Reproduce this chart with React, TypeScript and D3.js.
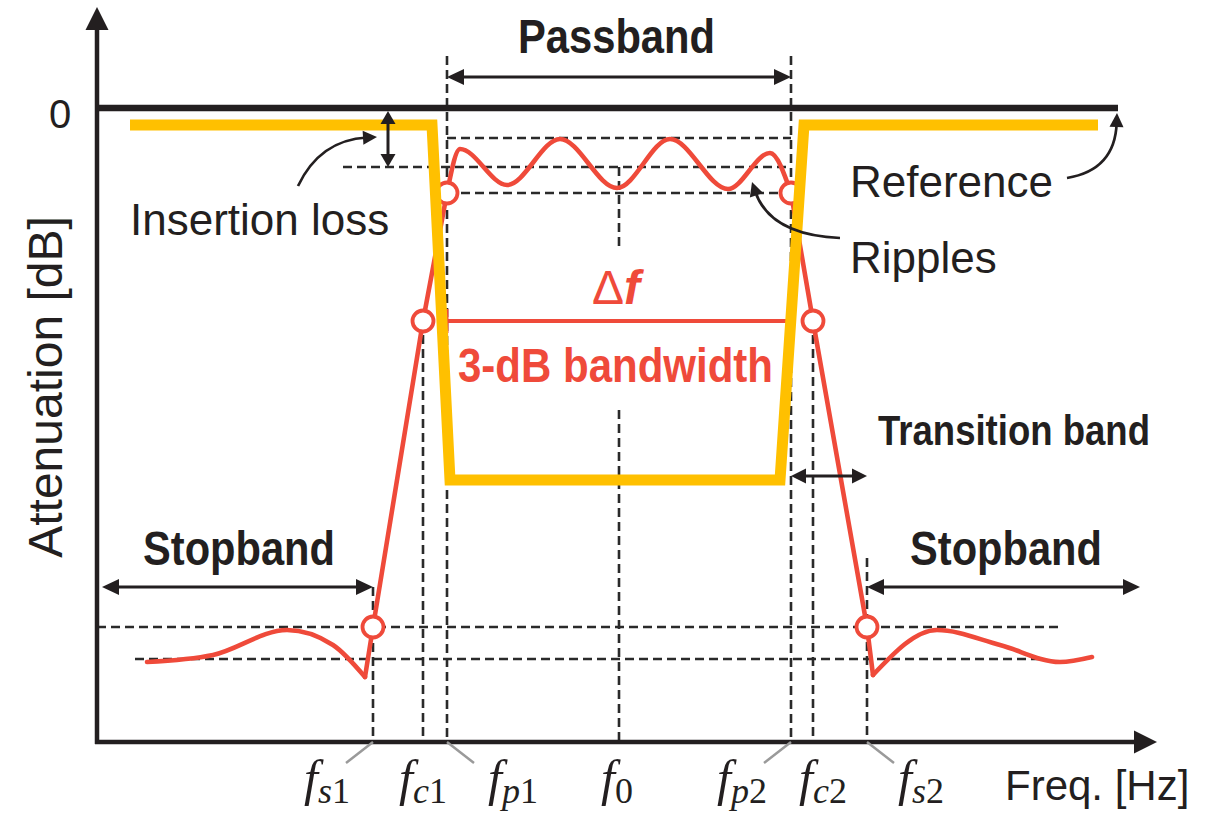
import React from 'react';
import * as d3 from 'd3';

// ---- key frequencies (arbitrary frequency units along the axis) ----
const FS1 = 27.6, FC1 = 32.6, FP1 = 35.0, F0 = 52.2, FP2 = 69.4, FC2 = 71.6, FS2 = 77.0;
const tickFreqs = [FS1, FC1, FP1, F0, FP2, FC2, FS2];
const tickSubLetter = ['s', 'c', 'p', '', 'p', 'c', 's'];
const tickSubDigit = ['1', '1', '1', '0', '2', '2', '2'];

// ---- attenuation levels (dB below reference, relative units) ----
const REF = 0, RIP_TOP = 3.0, ILOSS = 5.9, RIP_BOT = 8.5, DB3 = 21.3, STOP_TOP = 51.9, STOP_BOT = 55.1;

// ---- red filter response ----
const leftStopX = [5.0, 11.6, 19.0, 23.6, 26.8];
const leftStopY = [55.4, 54.7, 52.2, 53.7, 56.9];
const leftSkirtX = [26.8, FS1, FC1, FP1];
const leftSkirtY = [56.9, STOP_TOP, DB3, RIP_BOT];
const rippleX = [FP1, 36.3, 41.0, 46.3, 52.0, 57.3, 63.1, 67.3, FP2];
const rippleY = [RIP_BOT, 4.1, 7.7, 3.1, 8.0, 3.1, 8.1, 4.5, RIP_BOT];
const rightSkirtX = [FP2, FC2, FS2, 77.6];
const rightSkirtY = [RIP_BOT, DB3, STOP_TOP, 56.7];
const rightStopX = [77.6, 84.0, 90.3, 96.3, 99.5];
const rightStopY = [56.7, 52.2, 53.7, 55.4, 54.9];

// ---- marked points (circles) ----
const markX = [FS1, FC1, FP1, FP2, FC2, FS2];
const markY = [STOP_TOP, DB3, RIP_BOT, RIP_BOT, DB3, STOP_TOP];

// ---- yellow ideal mask ----
const maskX = [3.3, 33.5, 35.3, 68.3, 70.7, 100.1];
const maskY = [1.7, 1.7, 37.2, 37.2, 1.7, 1.7];

const RED = '#EF4A3A';
const YELLOW = '#FFC000';
const INK = '#231F20';
const SANS = '"Liberation Sans", Arial, sans-serif';
const SERIF = '"Liberation Serif", "Times New Roman", serif';

type P = [number, number];
const zip = (xs: number[], ys: number[]): P[] => xs.map((v, i) => [v, ys[i]]);

export default function App() {
  const W = 1222, H = 815;
  const x = d3.scaleLinear().domain([0, 106]).range([97, 1157]);
  const y = d3.scaleLinear().domain([0, 63.4]).range([108, 742]);
  const mono = d3.line<P>().x(d => x(d[0])).y(d => y(d[1])).curve(d3.curveMonotoneX);
  const lin = d3.line<P>().x(d => x(d[0])).y(d => y(d[1]));

  const head = (tx: number, ty: number, dx: number, dy: number, len: number, hw: number, fill = INK) => {
    const n = Math.hypot(dx, dy);
    const ux = dx / n, uy = dy / n;
    const bx = tx - ux * len, by = ty - uy * len;
    const pts = [[tx, ty], [bx - uy * hw, by + ux * hw], [bx + uy * hw, by - ux * hw]];
    return <polygon points={pts.map(p => p.join(',')).join(' ')} fill={fill} />;
  };

  const dbl = (x1: number, y1: number, x2: number, y2: number, len: number, hw: number, sw: number, key: string) => {
    const dx = x2 - x1, dy = y2 - y1, n = Math.hypot(dx, dy);
    const ux = dx / n, uy = dy / n;
    return (
      <g key={key}>
        <line x1={x1 + ux * (len - 2)} y1={y1 + uy * (len - 2)} x2={x2 - ux * (len - 2)} y2={y2 - uy * (len - 2)} stroke={INK} strokeWidth={sw} />
        {head(x1, y1, -dx, -dy, len, hw)}
        {head(x2, y2, dx, dy, len, hw)}
      </g>
    );
  };

  const curved = (s: P, c: P, e: P, key: string) => {
    const [sx, sy] = [x(s[0]), y(s[1])];
    const [cx, cy] = [x(c[0]), y(c[1])];
    const [ex, ey] = [x(e[0]), y(e[1])];
    const dx = ex - cx, dy = ey - cy, n = Math.hypot(dx, dy);
    const bx = ex - (dx / n) * 10, by = ey - (dy / n) * 10;
    return (
      <g key={key}>
        <path d={`M${sx},${sy} Q${cx},${cy} ${bx},${by}`} fill="none" stroke={INK} strokeWidth={2.7} />
        {head(ex, ey, dx, dy, 14, 7)}
      </g>
    );
  };

  const DASH = '9 5';
  const vDashes: [number, number, number][] = [
    [FP1, -5.2, 63.4], [FP2, -5.2, 63.4], [FC1, DB3, 63.4], [FC2, DB3, 63.4],
    [FS1, 47.9, 63.4], [FS2, 45.0, 63.4], [F0, ILOSS, 14.2], [F0, 30.2, 63.4],
  ];
  const hDashes: [number, number, number][] = [
    [RIP_TOP, FP1, FP2], [ILOSS, 24.6, FP2], [RIP_BOT, FP1, FP2],
    [STOP_TOP, 0, 96.5], [STOP_BOT, 3.8, 94.3],
  ];

  const labelDx = [-46, 0, 66, -2, -49, 10, 54];
  const leaderDir = [-1, 0, 1, 0, -1, 0, 1];

  const axisY = y(63.4);
  const axisX0 = x(0);

  return (
    <div style={{ position: 'absolute', left: 0, top: 0 }}>
      <svg width={W} height={H} viewBox={`0 0 ${W} ${H}`} style={{ display: 'block', background: '#fff' }}>
        {/* dashed guides */}
        <g stroke="#2a2a2a" strokeWidth={2.6} strokeDasharray={DASH} fill="none">
          {vDashes.map(([f, a, b], i) => (
            <line key={'v' + i} x1={x(f)} x2={x(f)} y1={y(a)} y2={y(b)} />
          ))}
          {hDashes.map(([lv, a, b], i) => (
            <line key={'h' + i} x1={x(a)} x2={x(b)} y1={y(lv)} y2={y(lv)} />
          ))}
        </g>

        {/* axes */}
        <line x1={axisX0} y1={axisY + 2} x2={axisX0} y2={y(-10.1) + 20} stroke={INK} strokeWidth={4.5} />
        {head(axisX0, y(-10.1), 0, -1, 23, 11.5)}
        <line x1={axisX0 - 2} y1={axisY} x2={x(106) - 20} y2={axisY} stroke={INK} strokeWidth={4.5} />
        {head(x(106), axisY, 1, 0, 23, 11.5)}

        {/* reference 0 line */}
        <line x1={axisX0} x2={x(102.1)} y1={y(REF)} y2={y(REF)} stroke={INK} strokeWidth={6.5} />

        {/* leader lines for tick labels */}
        {tickFreqs.map((f, i) =>
          leaderDir[i] !== 0 ? (
            <line key={'ld' + i} x1={x(f)} y1={axisY} x2={x(f) + leaderDir[i] * 27} y2={axisY + 21} stroke="#9A9A9A" strokeWidth={2.5} />
          ) : null
        )}

        {/* red response */}
        <g fill="none" stroke={RED} strokeWidth={4.6} strokeLinecap="round" strokeLinejoin="round">
          <path d={mono(zip(leftStopX, leftStopY)) || ''} />
          <path d={lin(zip(leftSkirtX, leftSkirtY)) || ''} />
          <path d={mono(zip(rippleX, rippleY)) || ''} />
          <path d={lin(zip(rightSkirtX, rightSkirtY)) || ''} />
          <path d={mono(zip(rightStopX, rightStopY)) || ''} />
        </g>

        {/* 3-dB bandwidth line */}
        <line x1={x(FP1)} x2={x(FP2)} y1={y(DB3)} y2={y(DB3)} stroke={RED} strokeWidth={3.8} />
        <line x1={x(FP1)} x2={x(FP1)} y1={y(DB3) - 12} y2={y(DB3) + 12} stroke={RED} strokeWidth={3} />
        <line x1={x(FP2)} x2={x(FP2)} y1={y(DB3) - 12} y2={y(DB3) + 12} stroke={RED} strokeWidth={3} />

        {/* circles */}
        {markX.map((f, i) => (
          <circle key={'c' + i} cx={x(f)} cy={y(markY[i])} r={10.5} fill="#fff" stroke={RED} strokeWidth={3.8} />
        ))}

        {/* yellow mask */}
        <path d={lin(zip(maskX, maskY)) || ''} fill="none" stroke={YELLOW} strokeWidth={11} strokeLinejoin="miter" />

        {/* dimension arrows */}
        {dbl(x(FP1), y(-3.1), x(FP2), y(-3.1), 17, 8, 3, 'pass')}
        {dbl(x(0.5), y(47.9), x(FS1), y(47.9), 17, 8, 3, 'stopL')}
        {dbl(x(FS2), y(47.9), x(104.3), y(47.9), 17, 8, 3, 'stopR')}
        {dbl(x(FP2), y(36.8), x(FS2), y(36.8), 15, 7.5, 3, 'trans')}
        {dbl(x(29.1), y(REF) + 3, x(29.1), y(ILOSS), 13, 7.5, 3, 'il')}

        {/* curved annotation arrows */}
        {curved([20.1, 7.8], [22.3, 3.2], [28.0, 2.9], 'cIL')}
        {curved([97.0, 7.0], [101.8, 6.2], [102.0, 0.5], 'cRef')}
        {curved([74.3, 13.0], [67.3, 12.7], [65.5, 7.4], 'cRip')}

        {/* texts */}
        <g fontFamily={SANS} fill={INK}>
          <text x={x(-3.7)} y={y(2.0)} fontSize={40} textAnchor="middle">0</text>
          <text transform={`translate(62,387) rotate(-90)`} fontSize={48} textAnchor="middle">Attenuation [dB]</text>
          <text x={x(3.3)} y={y(12.7)} fontSize={44}>Insertion loss</text>
          <text x={x(75.3)} y={y(8.9)} fontSize={44}>Reference</text>
          <text x={x(75.3)} y={y(16.5)} fontSize={44}>Ripples</text>
          <text x={x(90.8)} y={y(69.2)} fontSize={42}>Freq. [Hz]</text>
          <g fontWeight="bold">
            <text x={x(42.1)} y={y(-5.5)} fontSize={48} textLength={197} lengthAdjust="spacingAndGlyphs">Passband</text>
            <text x={x(4.6)} y={y(45.7)} fontSize={48} textLength={192} lengthAdjust="spacingAndGlyphs">Stopband</text>
            <text x={x(81.3)} y={y(45.7)} fontSize={48} textLength={192} lengthAdjust="spacingAndGlyphs">Stopband</text>
            <text x={x(78.1)} y={y(33.7)} fontSize={42} textLength={272} lengthAdjust="spacingAndGlyphs">Transition band</text>
          </g>
        </g>
        <g fontFamily={SANS} fill={RED}>
          <text x={x(F0) - 3} y={y(19.6)} fontSize={48} textAnchor="middle">
            <tspan>Δ</tspan>
            <tspan fontWeight="bold" fontStyle="italic">f</tspan>
          </text>
          <text x={x(36.1)} y={y(27.4)} fontSize={48} fontWeight="bold" textLength={315} lengthAdjust="spacingAndGlyphs">3-dB bandwidth</text>
        </g>

        {/* tick labels f_xx */}
        <g fontFamily={SERIF} fill={INK}>
          {tickFreqs.map((f, i) => (
            <text key={'t' + i} x={x(f) + labelDx[i]} y={795} fontSize={50} textAnchor="middle">
              <tspan fontStyle="italic">f</tspan>
              {tickSubLetter[i] ? (
                <tspan fontSize={36} fontStyle="italic" dy={8}>{tickSubLetter[i]}</tspan>
              ) : null}
              <tspan fontSize={36} dy={tickSubLetter[i] ? 0 : 8}>{tickSubDigit[i]}</tspan>
            </text>
          ))}
        </g>
      </svg>
    </div>
  );
}
